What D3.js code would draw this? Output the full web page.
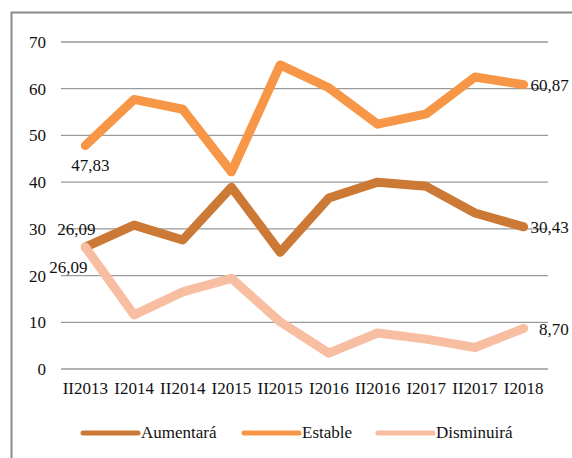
<!DOCTYPE html>
<meta charset="utf-8">
<html>
    <head>
        <style type="text/css">
            body { margin:0; background:#fff; }
            svg { display:block; }
            .graphText { font-family: "Liberation Serif", "Times New Roman", Tinos, "DejaVu Serif"; font-size: 17px; fill: #111; }
        </style>
        <script src="https://d3js.org/d3.v7.min.js"></script>
    </head>
    <body>
        <svg width="572" height="458"></svg>
        <script type="text/javascript">
            var periods = ["II2013", "I2014", "II2014", "I2015", "II2015", "I2016", "II2016", "I2017", "II2017", "I2018"];
            var aumentara = [26.09, 30.8, 27.6, 38.9, 25.0, 36.6, 40.0, 39.1, 33.4, 30.43];
            var estable = [47.83, 57.7, 55.6, 42.2, 65.1, 60.2, 52.4, 54.6, 62.5, 60.87];
            var disminuira = [26.09, 11.6, 16.5, 19.4, 10.1, 3.4, 7.7, 6.4, 4.6, 8.70];
            var yTicks = [0, 10, 20, 30, 40, 50, 60, 70];

            var series = [
                {name: "Aumentará", values: aumentara, color: "#CB7935"},
                {name: "Estable", values: estable, color: "#F79646"},
                {name: "Disminuirá", values: disminuira, color: "#F7BEA2"}
            ];

            var margin = {top: 42, bottom: 89, left: 61, right: 24};
            var width = 572, height = 458;

            var svg = d3.select("svg");

            // chart frame (runs off the right and bottom edges)
            svg.append("rect")
                .attr("x", 11.5).attr("y", 12.5)
                .attr("width", 600).attr("height", 500)
                .attr("fill", "none")
                .attr("stroke", "#8a8a8a")
                .attr("stroke-width", 2);

            var xScale = d3.scaleBand()
                .domain(periods)
                .range([margin.left, width - margin.right]);
            var xc = d => xScale(d) + xScale.bandwidth() / 2;

            var yScale = d3.scaleLinear()
                .domain([0, 70])
                .range([height - margin.bottom, margin.top]);

            // gridlines
            svg.selectAll(".grid")
                .data(yTicks)
                .enter().append("line")
                .attr("x1", margin.left)
                .attr("x2", width - margin.right)
                .attr("y1", d => yScale(d))
                .attr("y2", d => yScale(d))
                .attr("stroke", "#9a9a9a")
                .attr("stroke-width", 1.3);

            var yAxis = d3.axisLeft(yScale).tickValues(yTicks).tickSize(0).tickPadding(15);
            svg.append("g")
                .attr("transform", "translate(" + [margin.left, 0] + ")")
                .call(yAxis)
                .call(g => g.select(".domain").remove())
                .call(g => g.attr("font-family", null).attr("font-size", null))
                .selectAll("text").attr("class", "graphText");

            var xAxis = d3.axisBottom(xScale).tickSize(0).tickPadding(13);
            svg.append("g")
                .attr("transform", "translate(" + [0, height - margin.bottom] + ")")
                .call(xAxis)
                .call(g => g.select(".domain").remove())
                .call(g => g.attr("font-family", null).attr("font-size", null))
                .selectAll("text").attr("class", "graphText");

            var line = d3.line()
                .x((d, i) => xc(periods[i]))
                .y(d => yScale(d));

            svg.selectAll(".series")
                .data(series)
                .enter().append("path")
                .attr("d", d => line(d.values))
                .attr("fill", "none")
                .attr("stroke", d => d.color)
                .attr("stroke-width", 9)
                .attr("stroke-linejoin", "round")
                .attr("stroke-linecap", "round");

            var fmt = v => v.toFixed(2).replace(".", ",");
            var first = periods[0], last = periods[periods.length - 1];

            // first-point labels
            var firstLabels = [
                {v: estable[0], dx: 5, dy: 25},
                {v: aumentara[0], dx: -9, dy: -12},
                {v: disminuira[0], dx: -17, dy: 26}
            ];
            svg.selectAll(".flabel")
                .data(firstLabels)
                .enter().append("text")
                .attr("class", "graphText")
                .attr("text-anchor", "middle")
                .attr("x", d => xc(first) + d.dx)
                .attr("y", d => yScale(d.v) + d.dy)
                .text(d => fmt(d.v));

            // last-point labels
            var lastValues = [estable[9], aumentara[9], disminuira[9]];
            svg.selectAll(".llabel")
                .data(lastValues)
                .enter().append("text")
                .attr("class", "graphText")
                .attr("text-anchor", "end")
                .attr("x", xc(last) + 45)
                .attr("y", d => yScale(d) + 6.5)
                .text(d => fmt(d));

            // legend
            var legendX = [83, 244, 378];
            var legend = svg.selectAll(".legend")
                .data(series)
                .enter().append("g")
                .attr("transform", (d, i) => "translate(" + [legendX[i], 433] + ")");
            legend.append("line")
                .attr("x1", 0).attr("x2", 55)
                .attr("stroke", d => d.color)
                .attr("stroke-width", 5)
                .attr("stroke-linecap", "round");
            legend.append("text")
                .attr("class", "graphText")
                .attr("x", 58)
                .attr("y", 5)
                .text(d => d.name);
        </script>
    </body>
</html>
